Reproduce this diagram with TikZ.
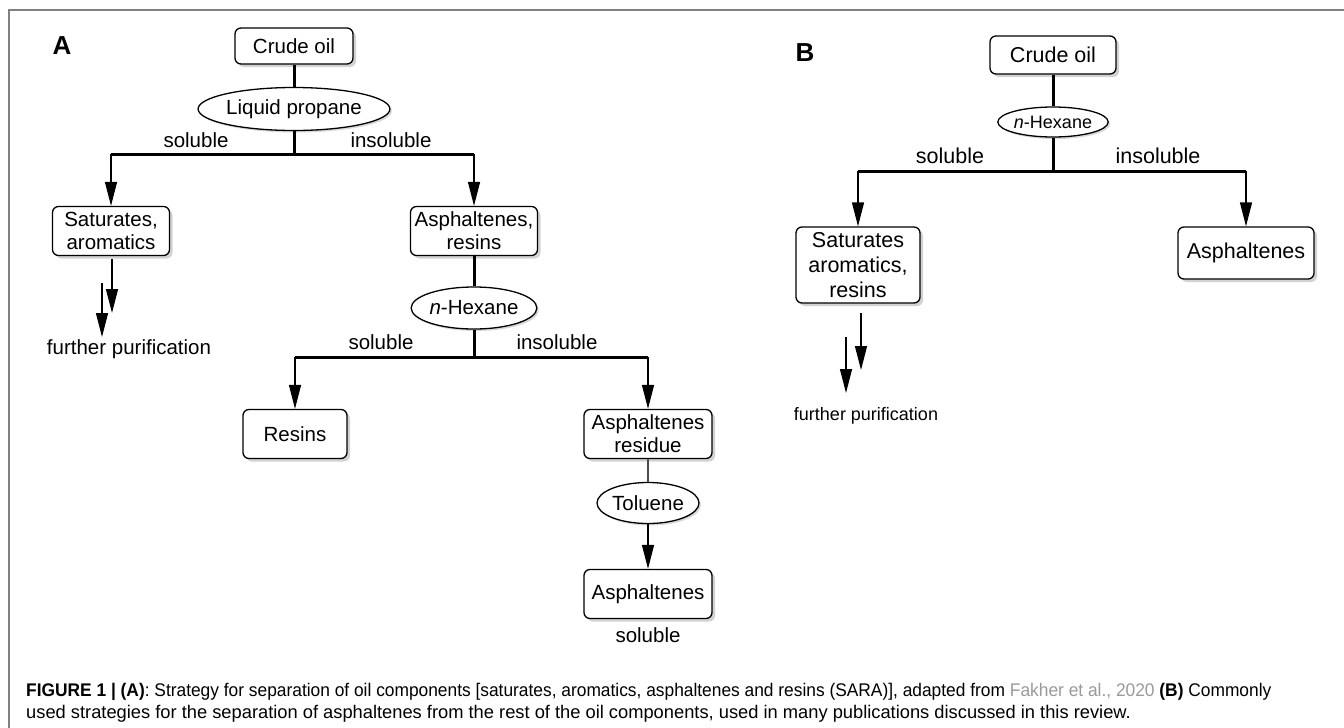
\documentclass[tikz,border=0pt]{standalone}
\usepackage{fontspec}
\setmainfont{Liberation Sans}
\usetikzlibrary{arrows.meta,positioning,shapes.geometric,shadows}

\definecolor{capgray}{HTML}{9A9A9A}
\definecolor{framegray}{HTML}{808080}

\tikzset{
  box/.style={draw, rounded corners=6pt, line width=1.3pt, fill=white, align=center, inner sep=0pt,
    drop shadow={shadow xshift=3pt, shadow yshift=-3pt, fill=black!35},
    font=\fontsize{20.5}{23}\selectfont},
  solv/.style={draw, ellipse, line width=1.3pt, fill=white, inner sep=0pt,
    drop shadow={shadow xshift=2pt, shadow yshift=-2pt, fill=black!30},
    font=\fontsize{20.5}{23}\selectfont},
  lbl/.style={inner sep=0pt, font=\fontsize{20.5}{23}\selectfont},
  link/.style={line width=3pt},
  arr/.style={line width=1.3pt, -{Triangle[length=24pt,width=12pt]}},
  panel/.style={inner sep=0pt, font=\fontsize{26}{30}\selectfont\bfseries}
}

\begin{document}
\begin{tikzpicture}[x=1pt,y=-1pt]

\useasboundingbox (0,0) rectangle (1344,728);
\fill[white] (0,0) rectangle (1344,728);

% Frame
\draw[framegray, line width=1.5pt] (9,728) -- (9,10) -- (1344,10);

% --- Panel A ---
\node[panel] (labA) at (62,46) {A};

\node[box, minimum width=118pt, minimum height=36pt] (crudeA) at (294,46) {Crude oil};
\node[solv, minimum width=160pt, minimum height=43pt] (propA) at (294,109) {Liquid propane};
\coordinate (jA) at (294,154);

\node[lbl] (solA) at (196,140) {soluble};
\node[lbl] (insA) at (391,140) {insoluble};

\node[box, minimum width=117pt, minimum height=49pt] (satA) at (111,231) {Saturates,\\aromatics};
\node[box, minimum width=127pt, minimum height=49pt] (asrA) at (474,231) {Asphaltenes,\\resins};

\draw[link] (crudeA) -- (propA);
\draw[link] (propA) -- (jA);
\draw[link] (satA.north |- jA) -- (asrA.north |- jA);
\draw[arr] (satA.north |- jA) -- (satA);
\draw[arr] (asrA.north |- jA) -- (asrA);

% further purification (A)
\coordinate (fA1) at (112,259);
\coordinate (fA2) at (112,313);
\coordinate (fA3) at (102,283);
\coordinate (fA4) at (102,337);
\draw[arr] (fA1) -- (fA2);
\draw[arr] (fA3) -- (fA4);
\node[lbl] (furA) at (129,349) {further purification};

% second step with n-hexane
\node[solv, minimum width=103pt, minimum height=42pt] (hexA) at (474,308) {\textit{n}-Hexane};
\coordinate (kA) at (474,357);

\node[lbl] (solA2) at (381,342) {soluble};
\node[lbl] (insA2) at (557,342) {insoluble};

\node[box, minimum width=104pt, minimum height=49pt] (resA) at (295,434) {Resins};
\node[box, minimum width=128pt, minimum height=49pt] (resdA) at (648,434) {Asphaltenes\\residue};
\node[solv, minimum width=102pt, minimum height=41pt] (tolA) at (648,503) {Toluene};
\node[box, minimum width=128pt, minimum height=49pt] (asphA) at (648,594) {Asphaltenes};
\node[lbl, below=8pt of asphA] (solA3) {soluble};

\draw[link] (asrA) -- (hexA);
\draw[link] (hexA) -- (kA);
\draw[link] (resA.north |- kA) -- (resdA.north |- kA);
\draw[arr] (resA.north |- kA) -- (resA);
\draw[arr] (resdA.north |- kA) -- (resdA);
\draw[line width=1.3pt, black!70] (resdA) -- (tolA);
\draw[arr] (tolA) -- (asphA);

% --- Panel B ---
\begin{scope}[box/.append style={font=\fontsize{21.5}{25}\selectfont},
              lbl/.append style={font=\fontsize{21.5}{25}\selectfont}]
\node[panel] (labB) at (805,53) {B};

\node[box, minimum width=126pt, minimum height=38pt] (crudeB) at (1053,55) {Crude oil};
\node[solv, minimum width=104pt, minimum height=30pt, font=\fontsize{18}{21}\selectfont] (hexB) at (1053,122) {\textit{n}-Hexane};
\coordinate (jB) at (1053,171);

\node[lbl] (solB) at (950,156) {soluble};
\node[lbl] (insB) at (1158,156) {insoluble};

\node[box, minimum width=124pt, minimum height=76pt] (satB) at (858,265) {Saturates\\aromatics,\\resins};
\node[box, minimum width=136pt, minimum height=52pt] (asphB) at (1246,253) {Asphaltenes};

\draw[link] (crudeB) -- (hexB);
\draw[link] (hexB) -- (jB);
\draw[link] (satB.north |- jB) -- (asphB.north |- jB);
\draw[arr] (satB.north |- jB) -- (satB);
\draw[arr] (asphB.north |- jB) -- (asphB);

% further purification (B)
\coordinate (fB1) at (861,313);
\coordinate (fB2) at (861,370);
\coordinate (fB3) at (846,337);
\coordinate (fB4) at (846,393);
\draw[arr] (fB1) -- (fB2);
\draw[arr] (fB3) -- (fB4);
\node[lbl, font=\fontsize{18}{21}\selectfont] (furB) at (866,416) {further purification};
\end{scope}

% Caption
\node[anchor=north west, inner sep=0pt, align=left, font=\fontsize{18.3}{22}\selectfont] (capt) at (26,683)
  {\resizebox{1245pt}{\height}{\textbf{FIGURE 1 | (A)}: Strategy for separation of oil components [saturates, aromatics, asphaltenes and resins (SARA)], adapted from \textcolor{capgray}{Fakher et al., 2020} \textbf{(B)} Commonly}\\
   used strategies for the separation of asphaltenes from the rest of the oil components, used in many publications discussed in this review.};

\end{tikzpicture}
\end{document}
